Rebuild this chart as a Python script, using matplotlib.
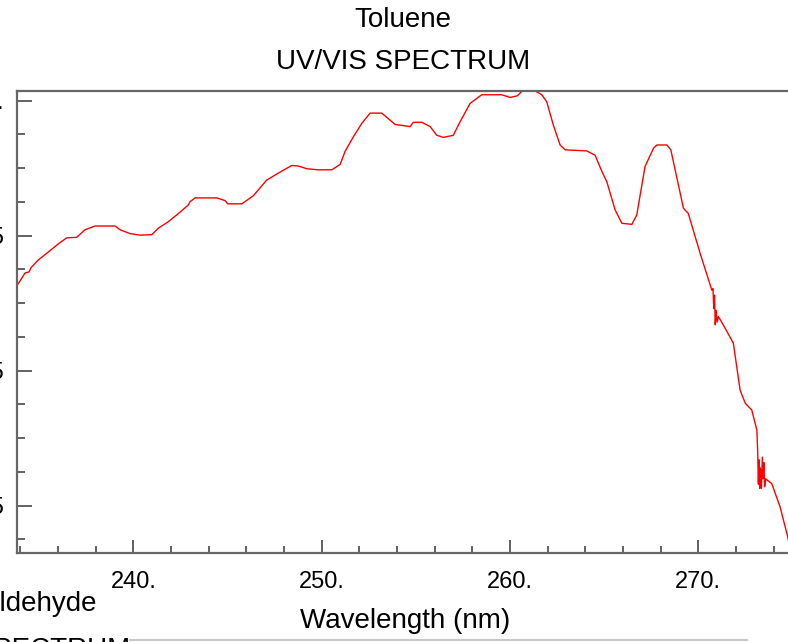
import numpy as np
import matplotlib
matplotlib.use("Agg")
import matplotlib.pyplot as plt
from matplotlib.ticker import MultipleLocator, FixedLocator, FixedFormatter

plt.rcParams["font.family"] = ["Liberation Sans", "DejaVu Sans"]

# spectrum (nm, absorbance)
wavelength = [
    233.81, 234.25, 234.46, 234.57, 234.95, 235.49, 236.02, 236.46, 236.99, 237.43,
    237.97, 239.03, 239.29, 239.82, 240.36, 240.98, 241.33, 241.86, 242.39, 242.92,
    243.01, 243.28, 244.43, 244.87, 245.01, 245.76, 246.37, 247.08, 247.70, 248.41,
    248.76, 249.21, 249.82, 250.54, 250.98, 251.24, 251.68, 252.13, 252.57, 253.19,
    253.63, 253.90, 254.69, 254.87, 255.32, 255.76, 256.11, 256.46, 256.99, 257.35,
    257.88, 258.50, 259.56, 260.01, 260.39, 260.71, 261.24, 261.69, 261.95, 262.30,
    262.66, 262.93, 264.08, 264.52, 264.88, 265.14, 265.58, 265.94, 266.47, 266.73,
    267.17, 267.62, 267.80, 268.33, 268.54, 269.21, 269.47, 270.10, 270.72, 270.78,
    270.82, 270.86, 270.90, 270.95, 271.00, 271.07, 271.42, 271.86, 272.22, 272.49,
    272.84, 273.11, 273.15, 273.19, 273.22, 273.26, 273.30, 273.35, 273.40, 273.44,
    273.48, 273.52, 273.58, 273.64, 273.90, 274.34, 274.70, 274.88, 275.00,
]
absorbance = [
    0.657, 0.681, 0.683, 0.691, 0.705, 0.720, 0.735, 0.746, 0.747, 0.761,
    0.768, 0.768, 0.761, 0.754, 0.751, 0.752, 0.764, 0.776, 0.791, 0.807,
    0.813, 0.820, 0.820, 0.815, 0.809, 0.809, 0.824, 0.853, 0.866, 0.880,
    0.879, 0.874, 0.872, 0.872, 0.882, 0.906, 0.933, 0.958, 0.977, 0.977,
    0.964, 0.956, 0.952, 0.960, 0.960, 0.952, 0.936, 0.932, 0.936, 0.961,
    0.995, 1.011, 1.011, 1.006, 1.009, 1.020, 1.020, 1.011, 0.998, 0.955,
    0.918, 0.909, 0.907, 0.899, 0.869, 0.850, 0.798, 0.773, 0.771, 0.788,
    0.878, 0.912, 0.918, 0.918, 0.909, 0.801, 0.791, 0.717, 0.649, 0.652,
    0.615, 0.640, 0.585, 0.612, 0.590, 0.600, 0.579, 0.551, 0.464, 0.440,
    0.427, 0.390, 0.353, 0.290, 0.335, 0.282, 0.320, 0.282, 0.340, 0.300,
    0.330, 0.285, 0.300, 0.298, 0.291, 0.248, 0.199, 0.172, 0.140,
]

x_ticks = [240, 250, 260, 270]
x_tick_labels = ["240.", "250.", "260.", "270."]
y_ticks = [0.25, 0.5, 0.75, 1.0]
y_tick_labels = ["0.25", "0.5", "0.75", "1."]

W, H = 788, 642
fig = plt.figure(figsize=(W / 100, H / 100), dpi=100)
ax = fig.add_axes([17 / W, 88.7 / H, 794.3 / W, 462.6 / H])

ax.plot(wavelength, absorbance, color="red", lw=1.0)
ax.set_xlim(233.82, 276.0)
ax.set_ylim(0.1619, 1.0185)

for s in ax.spines.values():
    s.set_color("#666666")
    s.set_linewidth(1.6)

ax.xaxis.set_major_locator(FixedLocator(x_ticks))
ax.xaxis.set_major_formatter(FixedFormatter(x_tick_labels))
ax.xaxis.set_minor_locator(MultipleLocator(2))
ax.yaxis.set_major_locator(FixedLocator(y_ticks))
ax.yaxis.set_major_formatter(FixedFormatter(y_tick_labels))
ax.yaxis.set_minor_locator(MultipleLocator(0.0625))

ax.tick_params(which="both", direction="in", color="#555555", width=1.3,
               labelsize=17, top=False, right=False)
ax.tick_params(axis="x", which="major", length=9.5, pad=12.5)
ax.tick_params(axis="x", which="minor", length=5)
ax.tick_params(axis="y", which="major", length=10.8, pad=9.5)
ax.tick_params(axis="y", which="minor", length=5.5)

ax.set_xlabel("Wavelength (nm)", fontsize=20)
ax.xaxis.set_label_coords(0.4885, -0.1463)
ax.xaxis.label.set_va("center")

fig.text(403 / W, 1 - 20 / H, "Toluene", ha="center", va="center", fontsize=20)
fig.text(403 / W, 1 - 62 / H, "UV/VIS SPECTRUM", ha="center", va="center", fontsize=20)

# pieces of the neighbouring chart below
fig.text(97 / W, 1 - 604 / H, "Benzaldehyde", ha="right", va="center", fontsize=20)
fig.text(130 / W, 1 - 657 / H, "UV/VIS SPECTRUM", ha="right", va="baseline", fontsize=20)
fig.add_artist(plt.Line2D([130 / W, 747 / W], [1 - 640 / H, 1 - 640 / H],
                          color="#c8c8c8", lw=1.5, transform=fig.transFigure))

fig.savefig("out.png", dpi=100)
